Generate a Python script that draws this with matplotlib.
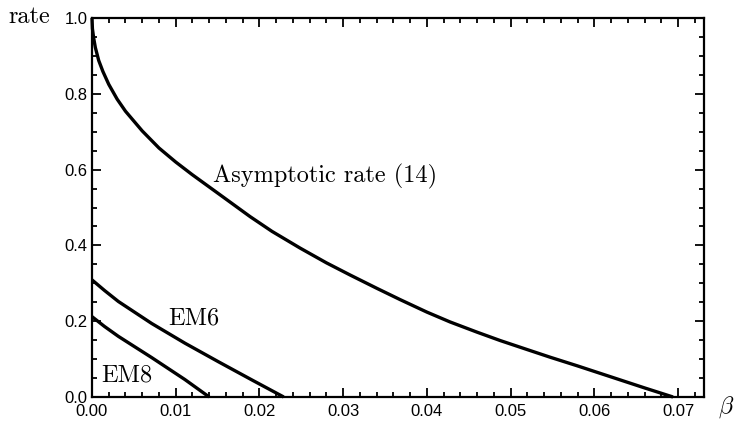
import matplotlib
matplotlib.use("Agg")
import matplotlib.pyplot as plt
from matplotlib.ticker import MultipleLocator

# ---------------------
# Data
# ---------------------
asym_beta = [0.0, 0.00005, 0.0002, 0.0004, 0.0008, 0.0013, 0.002, 0.003, 0.004,
             0.006, 0.008, 0.010, 0.01195, 0.01514, 0.01888, 0.0215, 0.02485,
             0.028, 0.03082, 0.034, 0.0368, 0.040, 0.04277, 0.046, 0.04875,
             0.052, 0.05472, 0.058, 0.062, 0.066, 0.0694]
asym_rate = [1.0, 0.972, 0.947, 0.922, 0.888, 0.859, 0.825, 0.786, 0.754,
             0.702, 0.657, 0.620, 0.587, 0.536, 0.476, 0.437, 0.393,
             0.354, 0.322, 0.287, 0.257, 0.224, 0.198, 0.171, 0.149,
             0.125, 0.105, 0.082, 0.053, 0.024, 0.0]

em6_beta = [0.0, 0.0015, 0.00315, 0.00713, 0.0111, 0.0151, 0.0191, 0.0229]
em6_rate = [0.309, 0.281, 0.252, 0.194, 0.142, 0.093, 0.045, 0.0]

em8_beta = [0.0, 0.0015, 0.00315, 0.00713, 0.0111, 0.0140]
em8_rate = [0.212, 0.186, 0.160, 0.104, 0.046, 0.0]

x_ticks = [0.0, 0.01, 0.02, 0.03, 0.04, 0.05, 0.06, 0.07]
y_ticks = [0.0, 0.2, 0.4, 0.6, 0.8, 1.0]

plt.rcParams["mathtext.fontset"] = "cm"
plt.rcParams["font.family"] = ["Liberation Sans", "DejaVu Sans"]

W, H = 734, 421
fig = plt.figure(figsize=(W / 100, H / 100), dpi=100)
ax = fig.add_axes([92 / W, 1 - 397 / H, (704 - 92) / W, (397 - 18) / H])

for xs, ys in [(asym_beta, asym_rate), (em6_beta, em6_rate), (em8_beta, em8_rate)]:
    ax.plot(xs, ys, color="black", lw=2.4, solid_capstyle="butt",
            solid_joinstyle="round", clip_on=False)

ax.set_xlim(0, 0.0731)
ax.set_ylim(0, 1.0)
ax.set_xticks(x_ticks)
ax.set_xticklabels([f"{v:.2f}" for v in x_ticks])
ax.set_yticks(y_ticks)
ax.set_yticklabels([f"{v:.1f}" for v in y_ticks])
ax.xaxis.set_minor_locator(MultipleLocator(0.002))
ax.yaxis.set_minor_locator(MultipleLocator(0.05))

for s in ax.spines.values():
    s.set_linewidth(1.6)
ax.tick_params(which="both", direction="in", top=True, right=True, width=1.3,
               labelsize=12)
ax.tick_params(which="major", length=6.5)
ax.tick_params(which="minor", length=3.5)
ax.tick_params(axis="x", pad=5)
ax.tick_params(axis="y", pad=3)

serif = dict(family="cmr10", fontsize=17.5, color="black")
ax.text(0.01446, 0.565, "Asymptotic rate (14)", va="baseline", ha="left", **serif)
ax.text(0.00912, 0.192, "EM6", va="baseline", ha="left", **serif)
ax.text(0.00116, 0.040, "EM8", va="baseline", ha="left", **serif)

fig.text(8 / W, 1 - 23 / H, "rate", va="baseline", ha="left", **serif)
fig.text(718 / W, 1 - 413 / H, r"$\beta$", va="baseline", ha="left", fontsize=17.5)

fig.savefig("out.png", dpi=100)
